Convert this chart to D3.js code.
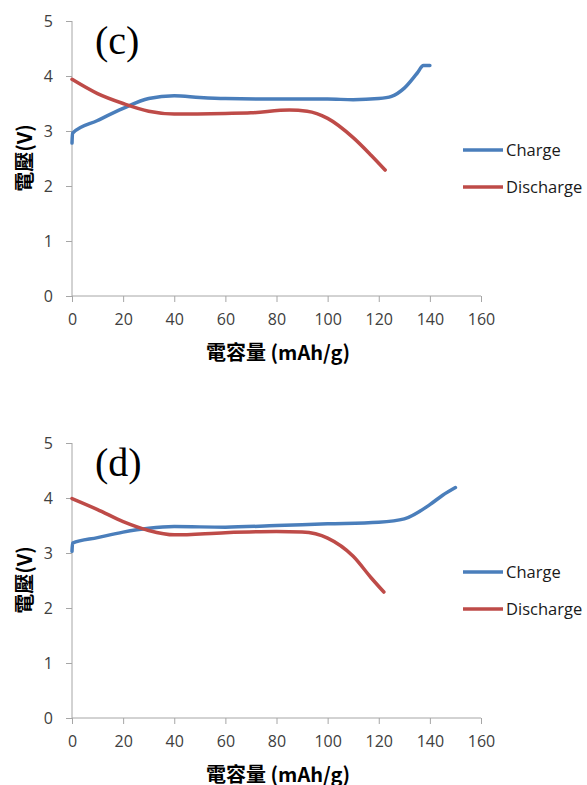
<!DOCTYPE html>
<meta charset="utf-8">
<style>
body { margin: 0; background: #fff; }
.tick text { font-family: "Open Sans", "Liberation Sans", sans-serif; font-size: 16px; fill: #404040; }
.axis path, .axis line { stroke: #a6a6a6; }
.title { font-family: "Noto Sans CJK TC", "Open Sans", sans-serif; font-size: 20px; font-weight: bold; fill: #000; }
.legend text { font-family: "Open Sans", "Liberation Sans", sans-serif; font-size: 16.5px; fill: #1a1a1a; }
.panel-label { font-family: "Liberation Serif", serif; font-size: 40px; fill: #000; }
</style>
<svg width="587" height="785"></svg>
<script src="https://d3js.org/d3.v7.min.js"></script>
<script>

var xTicks = [0, 20, 40, 60, 80, 100, 120, 140, 160],
    yTicks = [0, 1, 2, 3, 4, 5],
    seriesNames = ["Charge", "Discharge"],
    colors = ["#4a7ebb", "#be4b48"];

// panel (c)
var chargeC = [[0, 2.78], [0.2, 2.96], [10, 3.19], [20, 3.41], [30, 3.59], [40, 3.64], [50, 3.61], [60, 3.59],
               [80, 3.58], [100, 3.58], [110, 3.57], [120, 3.59], [125, 3.63], [130, 3.78], [135, 4.05],
               [137.5, 4.19], [140, 4.19]];
var dischargeC = [[0, 3.94], [10, 3.68], [20, 3.5], [30, 3.36], [40, 3.31], [60, 3.32], [70, 3.33],
                  [85, 3.38], [92, 3.36], [100, 3.23], [110, 2.88], [117, 2.56], [122.5, 2.29]];

// panel (d)
var chargeD = [[0, 3.03], [0.2, 3.18], [10, 3.28], [20, 3.38], [30, 3.45], [40, 3.48], [60, 3.47], [80, 3.5],
               [100, 3.53], [120, 3.56], [130, 3.62], [140, 3.88], [145, 4.05], [150, 4.19]];
var dischargeD = [[0, 3.99], [10, 3.79], [20, 3.57], [30, 3.41], [40, 3.33], [60, 3.37], [80, 3.39],
                  [90, 3.38], [100, 3.27], [110, 2.94], [117, 2.55], [122, 2.29]];

var svg = d3.select("svg");

function drawPanel(top, label, charge, discharge) {
  var g = svg.append("g").attr("transform", "translate(0," + top + ")");

  var x = d3.scaleLinear().domain([0, 160]).range([72, 481]),
      y = d3.scaleLinear().domain([0, 5]).range([275, 0]);

  g.append("g")
      .attr("class", "axis")
      .attr("transform", "translate(0,275)")
      .call(d3.axisBottom(x).tickValues(xTicks).tickSize(6).tickPadding(12))
    .select(".domain")
      .attr("d", "M72,0H481");

  g.append("g")
      .attr("class", "axis")
      .attr("transform", "translate(72,0)")
      .call(d3.axisLeft(y).tickValues(yTicks).tickFormat(d3.format("d")).tickSize(6).tickPadding(13))
    .select(".domain")
      .attr("d", "M0,0V275");

  var line = d3.line()
      .x(function(d) { return x(d[0]); })
      .y(function(d) { return y(d[1]); })
      .curve(d3.curveMonotoneX);

  [charge, discharge].forEach(function(s, i) {
    g.append("path")
        .datum(s)
        .attr("fill", "none")
        .attr("stroke", colors[i])
        .attr("stroke-width", 3.5)
        .attr("stroke-linecap", "round")
        .attr("d", line);
  });

  var legend = g.append("g").attr("class", "legend");
  seriesNames.forEach(function(name, i) {
    var ly = 129 + i * 37;
    legend.append("line")
        .attr("x1", 463).attr("x2", 503)
        .attr("y1", ly).attr("y2", ly)
        .attr("stroke", colors[i]).attr("stroke-width", 3.5);
    legend.append("text")
        .attr("x", 506).attr("y", ly)
        .attr("dy", "0.35em")
        .text(name);
  });

  g.append("text")
      .attr("class", "panel-label")
      .attr("x", 95).attr("y", 33)
      .text(label);

  g.append("text")
      .attr("class", "title")
      .attr("x", 278).attr("y", 339)
      .attr("text-anchor", "middle")
      .text("電容量 (mAh/g)");

  g.append("text")
      .attr("class", "title")
      .attr("transform", "translate(32,137) rotate(-90)")
      .attr("text-anchor", "middle")
      .text("電壓(V)");
}

drawPanel(21, "(c)", chargeC, dischargeC);
drawPanel(443, "(d)", chargeD, dischargeD);

</script>
